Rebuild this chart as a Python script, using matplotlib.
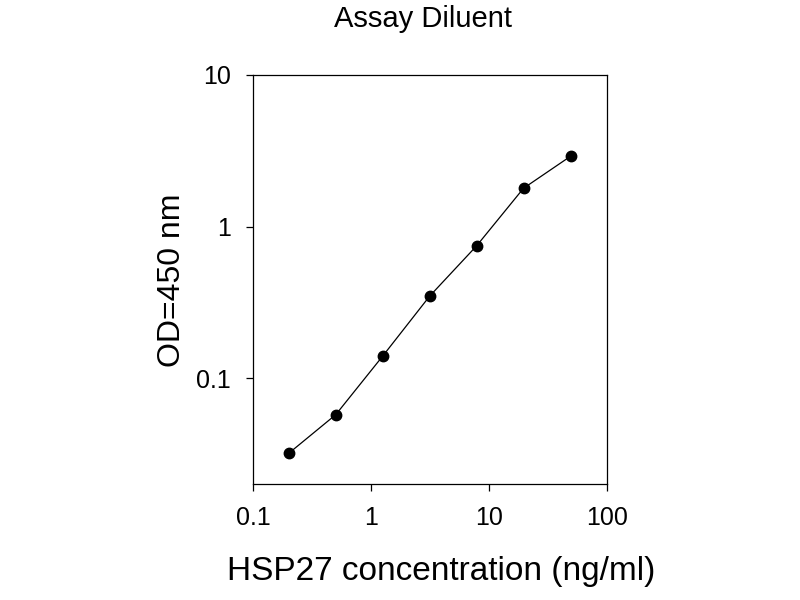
import matplotlib
matplotlib.use("Agg")
import matplotlib.pyplot as plt
from matplotlib.ticker import FixedLocator, FixedFormatter, NullLocator

plt.rcParams['font.family'] = ['Liberation Sans', 'DejaVu Sans']

# standard curve (2.5x dilution series)
conc = [0.2, 0.5, 1.25, 3.125, 7.8, 19.5, 48.8]
od450 = [0.032, 0.0575, 0.140, 0.348, 0.746, 1.79, 2.91]

xticks = [0.1, 1, 10, 100]
xticklabels = ["0.1", "1", "10", "100"]
yticks = [0.1, 1, 10]
yticklabels = ["0.1", "1", "10"]

fig = plt.figure(figsize=(8, 6), dpi=100)
ax = fig.add_axes([0.3166, 0.193, 0.4425, 0.682])

ax.plot(conc, od450, color='black', lw=0.9, marker='o', ms=7.5,
        markerfacecolor='black', markeredgecolor='black')

ax.set_xscale('log')
ax.set_yscale('log')
ax.set_xlim(0.1, 100)
ax.set_ylim(0.02, 10)

ax.xaxis.set_major_locator(FixedLocator(xticks))
ax.xaxis.set_major_formatter(FixedFormatter(xticklabels))
ax.yaxis.set_major_locator(FixedLocator(yticks))
ax.yaxis.set_major_formatter(FixedFormatter(yticklabels))
ax.xaxis.set_minor_locator(NullLocator())
ax.yaxis.set_minor_locator(NullLocator())

ax.tick_params(axis='both', direction='out', length=5, width=0.9,
               labelsize=18, pad=11)
for s in ax.spines.values():
    s.set_linewidth(0.9)

fig.text(0.529, 0.968, "Assay Diluent", ha='center', va='center', fontsize=21)
fig.text(0.552, 0.047, "HSP27 concentration (ng/ml)", ha='center', va='center', fontsize=24)
fig.text(0.215, 0.533, "OD=450 nm", ha='center', va='center', rotation=90, fontsize=23)

fig.savefig("out.png", dpi=100)
